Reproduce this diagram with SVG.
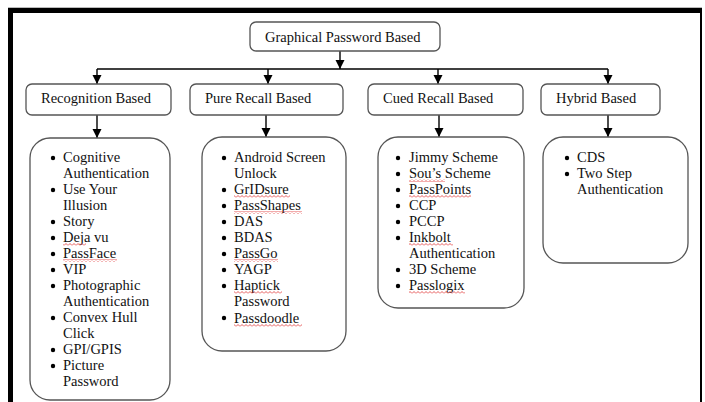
<svg xmlns="http://www.w3.org/2000/svg" width="705" height="402" viewBox="0 0 705 402">
<style>
text{font-family:"Liberation Serif","Times New Roman",serif;font-size:14.5px;fill:#111;}
.box{fill:#fff;stroke:#555;stroke-width:1.3;}
.conn{stroke:#000;stroke-width:1.4;fill:none;}
.sq{fill:url(#sq);}
</style>
<defs>
<marker id="ah" markerWidth="10" markerHeight="10" refX="5" refY="9" orient="auto" markerUnits="userSpaceOnUse" viewBox="0 0 10 10">
<path d="M0.5,0 L9.5,0 L5,9 Z" fill="#000" transform="rotate(-90 5 5)"/>
</marker>
<marker id="arr" markerWidth="10" markerHeight="10" refX="9" refY="5" orient="auto" markerUnits="userSpaceOnUse" viewBox="0 0 10 10">
<path d="M0,0.5 L9,5 L0,9.5 Z" fill="#000"/>
</marker>
<pattern id="sq" width="4" height="3" patternUnits="userSpaceOnUse">
<path d="M0,2.5 L2,0.5 L4,2.5" stroke="#e03030" stroke-width="0.8" fill="none"/>
</pattern>
</defs>
<rect x="0" y="0" width="705" height="402" fill="#fff"/>
<g id="frame">
<line x1="8" y1="7.5" x2="702" y2="7.5" stroke="#bbb" stroke-width="1"/>
<rect x="8" y="8" width="5" height="394" fill="#000"/>
<rect x="8" y="8" width="694" height="5" fill="#000"/>
<rect x="700" y="8" width="2" height="394" fill="#000"/>
</g>
<g id="connectors">
<line class="conn" x1="340" y1="51" x2="340" y2="69" marker-end="url(#arr)"/>
<line class="conn" x1="97" y1="69" x2="608" y2="69"/>
<line class="conn" x1="97" y1="69" x2="97" y2="84" marker-end="url(#arr)"/>
<line class="conn" x1="268" y1="69" x2="268" y2="84" marker-end="url(#arr)"/>
<line class="conn" x1="438" y1="69" x2="438" y2="84" marker-end="url(#arr)"/>
<line class="conn" x1="608" y1="69" x2="608" y2="84" marker-end="url(#arr)"/>
<line class="conn" x1="97" y1="115" x2="97" y2="138" marker-end="url(#arr)"/>
<line class="conn" x1="266" y1="115" x2="266" y2="137" marker-end="url(#arr)"/>
<line class="conn" x1="439" y1="115" x2="439" y2="137" marker-end="url(#arr)"/>
<line class="conn" x1="608" y1="115" x2="608" y2="137" marker-end="url(#arr)"/>
</g>
<g id="root">
<rect class="box" x="250" y="22" width="190" height="29" rx="6"/>
<text x="265" y="42">Graphical Password Based</text>
</g>
<g id="recognition">
<rect class="box" x="26" y="84" width="145" height="31" rx="6"/>
<text x="41" y="103">Recognition Based</text>
</g>
<g id="pure-recall">
<rect class="box" x="190" y="84" width="153" height="31" rx="6"/>
<text x="205" y="103">Pure Recall Based</text>
</g>
<g id="cued-recall">
<rect class="box" x="368" y="84" width="155" height="31" rx="6"/>
<text x="383" y="103">Cued Recall Based</text>
</g>
<g id="hybrid">
<rect class="box" x="541" y="84" width="119" height="31" rx="6"/>
<text x="556" y="103">Hybrid Based</text>
</g>
<g id="recognition-list">
<rect class="box" x="30" y="138" width="140" height="262" rx="20"/>
<g fill="#000">
<circle cx="53" cy="158" r="2.2"/><circle cx="53" cy="190" r="2.2"/><circle cx="53" cy="222" r="2.2"/><circle cx="53" cy="238" r="2.2"/><circle cx="53" cy="254" r="2.2"/><circle cx="53" cy="270" r="2.2"/><circle cx="53" cy="286" r="2.2"/><circle cx="53" cy="318" r="2.2"/><circle cx="53" cy="350" r="2.2"/><circle cx="53" cy="366" r="2.2"/>
</g>
<text x="63" y="162">Cognitive</text>
<text x="63" y="178">Authentication</text>
<text x="63" y="194">Use Your</text>
<text x="63" y="210">Illusion</text>
<text x="63" y="226">Story</text>
<text x="63" y="242">Deja vu</text>
<text x="63" y="258">PassFace</text>
<text x="63" y="274">VIP</text>
<text x="63" y="290">Photographic</text>
<text x="63" y="306">Authentication</text>
<text x="63" y="322">Convex Hull</text>
<text x="63" y="338">Click</text>
<text x="63" y="354">GPI/GPIS</text>
<text x="63" y="370">Picture</text>
<text x="63" y="386">Password</text>
<rect class="sq" x="63" y="243" width="23" height="3"/>
<rect class="sq" x="63" y="259" width="54" height="3"/>
</g>
<g id="pure-recall-list">
<rect class="box" x="202" y="137" width="144" height="214" rx="20"/>
<g fill="#000">
<circle cx="224" cy="158" r="2.2"/><circle cx="224" cy="190" r="2.2"/><circle cx="224" cy="206" r="2.2"/><circle cx="224" cy="222" r="2.2"/><circle cx="224" cy="238" r="2.2"/><circle cx="224" cy="254" r="2.2"/><circle cx="224" cy="270" r="2.2"/><circle cx="224" cy="286" r="2.2"/><circle cx="224" cy="318" r="2.2"/>
</g>
<text x="234" y="162">Android Screen</text>
<text x="234" y="178">Unlock</text>
<text x="234" y="194">GrIDsure</text>
<text x="234" y="210">PassShapes</text>
<text x="234" y="226">DAS</text>
<text x="234" y="242">BDAS</text>
<text x="234" y="258">PassGo</text>
<text x="234" y="274">YAGP</text>
<text x="234" y="290">Haptick</text>
<text x="234" y="306">Password</text>
<text x="234" y="323">Passdoodle</text>
<rect class="sq" x="234" y="195" width="56" height="3"/>
<rect class="sq" x="234" y="211" width="68" height="3"/>
<rect class="sq" x="234" y="259" width="44" height="3"/>
<rect class="sq" x="234" y="291" width="48" height="3"/>
<rect class="sq" x="234" y="324" width="68" height="3"/>
</g>
<g id="cued-recall-list">
<rect class="box" x="378" y="137" width="146" height="171" rx="20"/>
<g fill="#000">
<circle cx="398" cy="158" r="2.2"/><circle cx="398" cy="174" r="2.2"/><circle cx="398" cy="190" r="2.2"/><circle cx="398" cy="206" r="2.2"/><circle cx="398" cy="222" r="2.2"/><circle cx="398" cy="238" r="2.2"/><circle cx="398" cy="270" r="2.2"/><circle cx="398" cy="286" r="2.2"/>
</g>
<text x="409" y="162">Jimmy Scheme</text>
<text x="409" y="178">Sou’s Scheme</text>
<text x="409" y="194">PassPoints</text>
<text x="409" y="210">CCP</text>
<text x="409" y="226">PCCP</text>
<text x="409" y="242">Inkbolt</text>
<text x="409" y="258">Authentication</text>
<text x="409" y="274">3D Scheme</text>
<text x="409" y="290">Passlogix</text>
<rect class="sq" x="409" y="179" width="36" height="3"/>
<rect class="sq" x="409" y="195" width="62" height="3"/>
<rect class="sq" x="409" y="243" width="44" height="3"/>
<rect class="sq" x="409" y="291" width="56" height="3"/>
</g>
<g id="hybrid-list">
<rect class="box" x="543" y="137" width="145" height="126" rx="20"/>
<g fill="#000">
<circle cx="567" cy="158" r="2.2"/><circle cx="567" cy="174" r="2.2"/>
</g>
<text x="577" y="162">CDS</text>
<text x="577" y="178">Two Step</text>
<text x="577" y="194">Authentication</text>
</g>
</svg>
